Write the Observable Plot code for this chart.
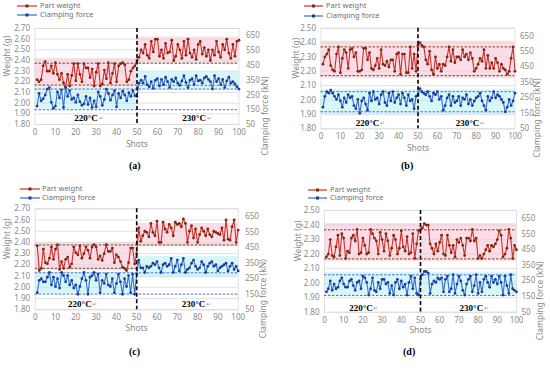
<!DOCTYPE html>
<html><head><meta charset="utf-8">
<script src="https://cdn.jsdelivr.net/npm/d3@7"></script>
<script src="https://cdn.jsdelivr.net/npm/@observablehq/plot@0.6"></script>
<style>
body{margin:0;background:#fff;}
#wrap{position:relative;width:550px;height:373px;overflow:hidden;background:#fff;font-family:"Noto Sans",sans-serif;}
.pn{position:absolute;}
.lg{position:absolute;font-size:7.5px;color:#6f6f6f;white-space:nowrap;line-height:1;}
.cap{position:absolute;font-family:"Liberation Serif",serif;font-weight:bold;font-size:10px;color:#000;}
</style></head>
<body><div id="wrap"></div>
<script>
// ---- Data ----
const shotTicks = [0,10,20,30,40,50,60,70,80,90,100];
const weightTicksHigh = [1.8,1.9,2.0,2.1,2.2,2.3,2.4,2.5,2.6,2.7];
const weightTicksLow = [1.8,1.9,2.0,2.1,2.2,2.3,2.4,2.5];
const forceTicks = [50,150,250,350,450,550,650];
const seriesNames = ["Part weight","Clamping force"];
const panelLabels = ["(a)","(b)","(c)","(d)"];
const tempLabels = ["220°C","230°C"];

const weightA = [2.22,2.20,2.22,2.35,2.39,2.30,2.30,2.35,2.28,2.38,
2.27,2.22,2.28,2.19,2.15,2.27,2.16,2.26,2.37,2.21,
2.37,2.27,2.20,2.37,2.33,2.33,2.24,2.32,2.16,2.29,
2.37,2.16,2.18,2.31,2.23,2.38,2.19,2.28,2.37,2.20,
2.35,2.37,2.38,2.36,2.20,2.22,2.30,2.33,2.35,2.40,
2.43,2.50,2.47,2.55,2.45,2.42,2.58,2.48,2.60,2.60,
2.44,2.50,2.42,2.56,2.47,2.48,2.59,2.40,2.44,2.55,
2.50,2.42,2.58,2.45,2.60,2.47,2.43,2.50,2.41,2.55,
2.58,2.46,2.52,2.44,2.50,2.40,2.50,2.45,2.58,2.48,
2.43,2.55,2.50,2.60,2.47,2.42,2.55,2.44,2.58,2.59];
const forceA = [175,260,210,225,250,290,300,200,160,175,
270,230,285,165,300,240,280,220,230,200,
250,205,180,190,240,185,230,165,210,170,
270,240,180,220,290,260,215,250,280,170,
260,230,275,250,210,265,240,280,245,240,
330,350,330,375,320,305,340,295,350,360,
310,355,320,370,340,300,355,340,365,330,
315,345,380,335,300,350,360,320,380,345,
350,330,365,375,355,340,290,380,340,360,
320,355,300,345,370,330,340,325,305,290];

const weightB = [2.25,2.30,2.32,2.35,2.24,2.21,2.20,2.32,2.37,2.19,
2.29,2.35,2.33,2.22,2.35,2.36,2.30,2.33,2.20,2.20,
2.21,2.36,2.36,2.28,2.33,2.22,2.21,2.24,2.29,2.22,
2.35,2.25,2.24,2.27,2.23,2.28,2.28,2.20,2.32,2.33,
2.18,2.32,2.32,2.19,2.19,2.37,2.22,2.32,2.20,2.38,
2.40,2.38,2.37,2.28,2.25,2.34,2.21,2.18,2.30,2.22,
2.25,2.20,2.25,2.24,2.30,2.37,2.27,2.35,2.26,2.30,
2.30,2.28,2.35,2.30,2.32,2.28,2.33,2.29,2.20,2.22,
2.25,2.29,2.27,2.35,2.22,2.31,2.22,2.26,2.22,2.29,
2.26,2.20,2.25,2.22,2.21,2.18,2.20,2.29,2.37,2.20];
const forceB = [190,260,290,280,300,280,260,240,270,230,
190,250,220,270,250,260,200,180,240,150,
230,250,210,170,280,230,290,240,250,210,
270,290,220,200,280,230,290,220,250,270,
210,280,250,200,270,230,240,180,260,270,
310,290,280,270,290,260,230,280,270,290,
240,260,170,200,250,270,200,260,220,230,
260,200,250,240,270,210,240,200,230,250,
260,280,230,200,170,260,230,250,290,250,
270,260,240,220,160,190,240,200,230,280];

const weightC = [2.37,2.15,2.17,2.34,2.22,2.21,2.26,2.36,2.25,2.34,
2.38,2.16,2.23,2.17,2.25,2.27,2.18,2.21,2.36,2.31,
2.29,2.37,2.26,2.30,2.36,2.33,2.26,2.36,2.38,2.36,
2.25,2.28,2.24,2.30,2.38,2.32,2.32,2.35,2.22,2.29,
2.27,2.23,2.18,2.17,2.15,2.22,2.35,2.35,2.21,2.30,
2.53,2.41,2.46,2.50,2.49,2.45,2.57,2.49,2.46,2.59,
2.40,2.40,2.58,2.52,2.49,2.56,2.53,2.46,2.58,2.56,
2.57,2.54,2.61,2.57,2.40,2.50,2.55,2.44,2.52,2.40,
2.47,2.53,2.50,2.46,2.52,2.47,2.45,2.50,2.49,2.48,
2.47,2.53,2.42,2.60,2.43,2.42,2.54,2.60,2.40,2.51];
const forceC = [160,240,250,230,230,260,290,210,260,200,
250,190,290,270,230,270,210,240,190,210,
150,200,250,290,240,150,260,270,290,240,
280,160,240,220,280,210,200,250,160,220,
280,230,150,250,200,270,160,280,150,280,
370,320,320,290,330,320,330,350,340,360,
320,290,340,350,330,340,380,290,330,370,
300,340,380,290,310,320,350,370,330,310,
320,360,340,290,330,350,360,330,340,300,
320,330,340,350,300,330,350,310,330,300];

const weightD = [2.18,2.20,2.30,2.19,2.18,2.25,2.33,2.19,2.34,2.31,
2.17,2.22,2.21,2.31,2.33,2.29,2.37,2.20,2.21,2.31,
2.26,2.20,2.21,2.37,2.34,2.31,2.29,2.20,2.35,2.30,
2.22,2.34,2.29,2.19,2.24,2.33,2.30,2.20,2.24,2.36,
2.25,2.22,2.32,2.20,2.21,2.34,2.17,2.27,2.36,2.37,
2.38,2.41,2.40,2.40,2.27,2.24,2.20,2.27,2.22,2.28,
2.33,2.20,2.19,2.33,2.26,2.21,2.26,2.18,2.30,2.28,
2.31,2.26,2.19,2.31,2.31,2.29,2.37,2.29,2.31,2.17,
2.19,2.17,2.20,2.23,2.26,2.22,2.26,2.25,2.27,2.30,
2.36,2.33,2.18,2.20,2.24,2.37,2.31,2.17,2.26,2.23];
const forceD = [180,200,250,190,230,200,210,250,270,230,
210,210,250,260,220,190,240,250,200,280,
270,240,160,200,270,190,180,240,200,260,
260,230,240,170,220,160,240,260,200,250,
210,230,160,240,280,200,270,170,160,260,
290,310,310,300,170,230,250,240,270,260,
270,180,260,280,180,200,290,170,230,280,
250,190,160,230,260,280,180,220,290,170,
240,180,260,280,240,210,280,240,260,230,
280,240,160,280,220,170,290,200,190,180];

// control bands & limits (weight in g, force in kN)
const pinkA = [{x1:0,x2:50,y1:2.15,y2:2.42},{x1:50,x2:100,y1:2.37,y2:2.62}];
const cyanA = [{x1:0,x2:50,f1:150,f2:300},{x1:50,x2:100,f1:285,f2:405}];
const wLimA = [{x1:0,x2:100,v:2.375},{x1:0,x2:50,v:2.17}];
const fLimA = [{x1:0,x2:100,v:290},{x1:0,x2:100,v:150}];
const gLimA = [{x1:50,x2:100,v:315}];

const pinkB = [{x1:0,x2:100,y1:2.15,y2:2.41}];
const cyanB = [{x1:0,x2:100,f1:140,f2:305}];
const wLimB = [{x1:0,x2:100,v:2.37},{x1:0,x2:100,v:2.17}];
const fLimB = [{x1:0,x2:100,v:290},{x1:0,x2:100,v:160}];
const gLimB = [];

const pinkC = [{x1:0,x2:50,y1:2.15,y2:2.40},{x1:50,x2:100,y1:2.36,y2:2.57}];
const cyanC = [{x1:0,x2:50,f1:151,f2:292},{x1:50,x2:100,f1:255,f2:393}];
const wLimC = [{x1:0,x2:100,v:2.378},{x1:0,x2:50,v:2.17}];
const fLimC = [{x1:0,x2:100,v:288},{x1:0,x2:100,v:151}];
const gLimC = [];

const pinkD = [{x1:0,x2:100,y1:2.15,y2:2.41}];
const cyanD = [{x1:0,x2:100,f1:157,f2:305}];
const wLimD = [{x1:0,x2:100,v:2.367},{x1:0,x2:100,v:2.167}];
const fLimD = [{x1:0,x2:100,v:289},{x1:0,x2:100,v:157}];
const gLimD = [];

// temperature label anchors (shot, weight)
const tempPosA = [{x:25,y:1.862},{x:78,y:1.862}];
const tempPosB = [{x:24,y:1.84},{x:75.5,y:1.84}];
const tempPosC = [{x:22,y:1.847},{x:78,y:1.847}];
const tempPosD = [{x:19,y:1.828},{x:76.5,y:1.828}];

// ---- Rendering ----
const FONT = "'Noto Sans', sans-serif";
const GRAY = "#8a8a8a";
const RED = "#cf2f2a", RED_DOT = "#7b2a12";
const BLUE = "#2f6fd2", BLUE_DOT = "#1f3b98";

function panel(cfg){
  const wMax = cfg.wMax;
  const toW = f => 1.8 + (f - 50) / 650 * (wMax - 1.8);
  const fromW = w => 50 + (w - 1.8) / (wMax - 1.8) * 650;
  const wData = cfg.weights.map((v,i)=>({shot:i+1, w:v}));
  const fData = cfg.forces.map((v,i)=>({shot:i+1, w:toW(v)}));
  const temps = cfg.tempPos.map((p,i)=>({...p, t:tempLabels[i]}));
  return Plot.plot({
    width:275, height:165,
    marginLeft:cfg.mL, marginRight:cfg.mR, marginTop:cfg.mT, marginBottom:cfg.mB,
    x:{domain:[0,100]},
    y:{domain:[1.8,wMax]},
    style:{fontFamily:FONT, fontSize:"8px", color:GRAY, background:"transparent", overflow:"visible"},
    marks:[
      Plot.rect(cfg.pink,{x1:"x1",x2:"x2",y1:"y1",y2:"y2",fill:"#fcdce6"}),
      Plot.rect(cfg.cyan,{x1:"x1",x2:"x2",y1:d=>toW(d.f1),y2:d=>toW(d.f2),fill:"#d6f6f9"}),
      Plot.ruleY(cfg.wTicks,{stroke:"#d9d9d9",strokeWidth:0.8}),
      Plot.frame({stroke:"#d9d9d9",strokeWidth:0.8}),
      Plot.ruleY(cfg.wLim,{x1:"x1",x2:"x2",y:"v",stroke:"#6b3510",strokeWidth:0.9,strokeDasharray:"2.5,1.5"}),
      Plot.ruleY(cfg.gLim,{x1:"x1",x2:"x2",y:d=>toW(d.v),stroke:"#4f8a3a",strokeWidth:0.9,strokeDasharray:"2.5,1.5"}),
      Plot.ruleY(cfg.fLim,{x1:"x1",x2:"x2",y:d=>toW(d.v),stroke:"#3b5fc8",strokeWidth:0.9,strokeDasharray:"2.5,1.5"}),
      Plot.line(wData,{x:"shot",y:"w",stroke:RED,strokeWidth:1.1}),
      Plot.dot(wData,{x:"shot",y:"w",r:1.4,fill:RED_DOT,stroke:null}),
      Plot.line(fData,{x:"shot",y:"w",stroke:BLUE,strokeWidth:1.1}),
      Plot.dot(fData,{x:"shot",y:"w",r:1.4,fill:BLUE_DOT,stroke:null}),
      Plot.ruleX([50],{stroke:"#000",strokeWidth:1.6,strokeDasharray:"4,2.5"}),
      Plot.text(temps,{x:"x",y:"y",text:"t",fontFamily:"'Liberation Serif',serif",fontWeight:"bold",fontSize:9,fill:"#000"}),
      Plot.text(temps,{x:"x",y:"y",text:()=>"↵",dx:15,fontSize:6,fill:"#999"}),
      Plot.axisX(shotTicks,{tickSize:0,tickPadding:5,label:null,fill:GRAY,fontSize:8}),
      Plot.axisY(cfg.wTicks,{anchor:"left",tickSize:0,tickPadding:5,label:null,tickFormat:d3.format(".2f"),fill:GRAY,fontSize:8}),
      Plot.axisY(forceTicks.map(toW),{anchor:"right",tickSize:0,tickPadding:cfg.rPad,label:null,tickFormat:w=>String(Math.round(fromW(w))),fill:GRAY,fontSize:8}),
      Plot.text(["Weight (g)"],{frameAnchor:"left",dx:cfg.lT,rotate:-90,fill:GRAY,fontSize:8.5}),
      Plot.text(["Clamping force (kN)"],{frameAnchor:"right",dx:cfg.rT,rotate:-90,fill:GRAY,fontSize:8.5}),
      Plot.text(["Shots"],{frameAnchor:"bottom",dy:cfg.sT,fill:GRAY,fontSize:8.5})
    ]
  });
}

const configs = [
  {left:0,top:0,wMax:2.7,wTicks:weightTicksHigh,mL:34.5,mR:36.5,mT:28,mB:41,weights:weightA,forces:forceA,pink:pinkA,cyan:cyanA,wLim:wLimA,fLim:fLimA,gLim:gLimA,tempPos:tempPosA,rPad:7,lT:-27.5,rT:26.5,sT:22,
   lg:{x1:17,x2:37,tx:40,y1:6,y2:15},cap:{x:136,y:166}},
  {left:275,top:0,wMax:2.5,wTicks:weightTicksLow,mL:45.5,mR:35.5,mT:27.7,mB:36.7,weights:weightB,forces:forceB,pink:pinkB,cyan:cyanB,wLim:wLimB,fLim:fLimB,gLim:gLimB,tempPos:tempPosB,rPad:5,lT:-25,rT:22.5,sT:22,
   lg:{x1:304,x2:323,tx:326,y1:6,y2:16},cap:{x:408,y:166}},
  {left:0,top:180,wMax:2.7,wTicks:weightTicksHigh,mL:34.7,mR:37.3,mT:28.3,mB:35.7,weights:weightC,forces:forceC,pink:pinkC,cyan:cyanC,wLim:wLimC,fLim:fLimC,gLim:gLimC,tempPos:tempPosC,rPad:7,lT:-28,rT:25,sT:21,
   lg:{x1:20,x2:40,tx:42,y1:189,y2:197.5},cap:{x:136,y:352}},
  {left:275,top:180,wMax:2.5,wTicks:weightTicksLow,mL:49,mR:34,mT:30,mB:33.3,weights:weightD,forces:forceD,pink:pinkD,cyan:cyanD,wLim:wLimD,fLim:fLimD,gLim:gLimD,tempPos:tempPosD,rPad:5,lT:-26,rT:24,sT:21,
   lg:{x1:308,x2:327,tx:330,y1:189.5,y2:198},cap:{x:410,y:352}}
];

const wrap = document.getElementById("wrap");
function legendRow(x1,x2,tx,y,line,dot,label){
  const s = document.createElementNS("http://www.w3.org/2000/svg","svg");
  s.setAttribute("width",x2-x1+2); s.setAttribute("height",6);
  s.style.position="absolute"; s.style.left=(x1-1)+"px"; s.style.top=(y-3)+"px";
  const mid=(x2-x1)/2+1;
  s.innerHTML=`<line x1="1" x2="${x2-x1+1}" y1="3" y2="3" stroke="${line}" stroke-width="1.2"/><rect x="${mid-1.5}" y="1.5" width="3" height="3" fill="${dot}"/>`;
  wrap.appendChild(s);
  const t=document.createElement("div"); t.className="lg"; t.textContent=label;
  t.style.left=tx+"px"; t.style.top=(y-4)+"px"; wrap.appendChild(t);
}
configs.forEach((c,i)=>{
  const el = panel(c);
  el.classList.add("pn"); el.style.left=c.left+"px"; el.style.top=c.top+"px";
  wrap.appendChild(el);
  legendRow(c.lg.x1,c.lg.x2,c.lg.tx,c.lg.y1,RED,RED_DOT,seriesNames[0]);
  legendRow(c.lg.x1,c.lg.x2,c.lg.tx,c.lg.y2,BLUE,BLUE_DOT,seriesNames[1]);
  const cp=document.createElement("div"); cp.className="cap"; cp.textContent=panelLabels[i];
  cp.style.left=(c.cap.x-7)+"px"; cp.style.top=(c.cap.y-6)+"px"; wrap.appendChild(cp);
});
</script></body></html>
